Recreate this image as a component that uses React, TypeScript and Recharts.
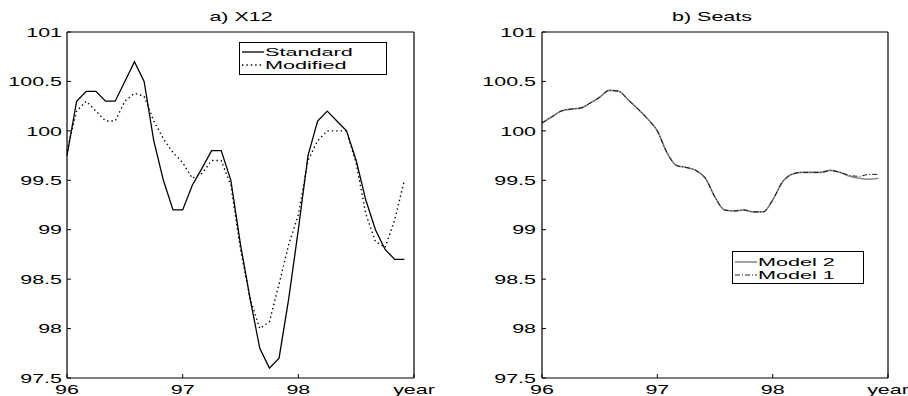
import { LineChart, Line, XAxis, YAxis, Legend } from 'recharts';

const FONT = '"Liberation Sans", Arial, Helvetica, sans-serif';
const STRETCH = 1.65;

// months from Jan 96 to Dec 98
const startYear = 96;
const monthCount = 36;
const months = Array.from({ length: monthCount }, (_, i) => startYear + i / 12);

const standard = [
  99.75, 100.3, 100.4, 100.4, 100.3, 100.3, 100.5, 100.7, 100.5, 99.9, 99.5, 99.2,
  99.2, 99.45, 99.62, 99.8, 99.8, 99.5, 98.85, 98.3, 97.8, 97.6, 97.7, 98.3,
  99.0, 99.75, 100.1, 100.2, 100.1, 100.0, 99.7, 99.3, 99.0, 98.8, 98.7, 98.7,
];
const modified = [
  99.8, 100.2, 100.3, 100.2, 100.1, 100.1, 100.3, 100.38, 100.35, 100.1, 99.92, 99.78,
  99.68, 99.52, 99.57, 99.7, 99.7, 99.45, 98.8, 98.3, 98.0, 98.07, 98.45, 98.85,
  99.15, 99.7, 99.9, 100.0, 100.0, 100.0, 99.67, 99.16, 98.88, 98.82, 99.1, 99.5,
];
const model2 = [
  100.08, 100.14, 100.2, 100.22, 100.23, 100.28, 100.34, 100.41, 100.4, 100.31, 100.22, 100.12,
  100.0, 99.78, 99.65, 99.63, 99.6, 99.52, 99.33, 99.2, 99.19, 99.2, 99.18, 99.18,
  99.3, 99.48, 99.56, 99.58, 99.58, 99.58, 99.6, 99.58, 99.54, 99.52, 99.51, 99.52,
];
const model1 = [
  100.08, 100.14, 100.2, 100.22, 100.23, 100.28, 100.34, 100.41, 100.4, 100.31, 100.22, 100.12,
  100.0, 99.78, 99.65, 99.63, 99.6, 99.52, 99.33, 99.2, 99.19, 99.2, 99.18, 99.18,
  99.3, 99.48, 99.56, 99.58, 99.58, 99.58, 99.6, 99.58, 99.55, 99.54, 99.56, 99.56,
];

const xTicks = [96, 97, 98, 99];
const yTicks = [97.5, 98, 98.5, 99, 99.5, 100, 100.5, 101];
const x12Order = ['Standard', 'Modified'];
const seatsOrder = ['Model 2', 'Model 1'];

const x12Data = months.map((t, i) => ({ t, standard: standard[i], modified: modified[i] }));
const seatsData = months.map((t, i) => ({ t, model2: model2[i], model1: model1[i] }));

const xLabel = (v: number) => (v === 99 ? 'year' : String(v));

const StretchTick = (props: any) => {
  const { x, y, payload, textAnchor, fmt } = props;
  return (
    <text
      transform={`translate(${x},${y}) scale(${STRETCH},1)`}
      textAnchor={textAnchor}
      dy="0.36em"
      fontSize={13}
      fontFamily={FONT}
      fill="#000"
    >
      {fmt ? fmt(payload.value) : payload.value}
    </text>
  );
};

const BoxLegend = (props: any) => {
  const { payload = [], padTop = 4, rowH = 12, order = [] } = props;
  const items = [...payload].sort((a: any, b: any) => order.indexOf(a.value) - order.indexOf(b.value));
  return (
    <div
      style={{
        boxSizing: 'border-box',
        width: '100%',
        height: '100%',
        border: '1px solid #000',
        background: '#fff',
        paddingTop: padTop - 1,
        paddingLeft: 2,
        fontFamily: FONT,
      }}
    >
      {items.map((p: any) => (
        <div key={p.value} style={{ display: 'flex', alignItems: 'center', height: rowH }}>
          <svg width={22} height={4} style={{ display: 'block', flex: 'none' }}>
            <line
              x1={0}
              y1={2}
              x2={22}
              y2={2}
              stroke={p.color}
              strokeWidth={p.payload?.strokeWidth ?? 1}
              strokeDasharray={p.payload?.strokeDasharray}
            />
          </svg>
          <span
            style={{
              fontSize: 10.8,
              lineHeight: '10px',
              color: '#000',
              whiteSpace: 'nowrap',
              marginLeft: 1,
              display: 'inline-block',
              transform: `scaleX(2)`,
              transformOrigin: 'left center',
            }}
          >
            {p.value}
          </span>
        </div>
      ))}
    </div>
  );
};

const Title = ({ text, cx }: { text: string; cx: number }) => (
  <div
    style={{
      position: 'absolute',
      left: cx - 100,
      top: 10,
      width: 200,
      textAlign: 'center',
      fontFamily: FONT,
      fontSize: 13,
      lineHeight: '14px',
      color: '#000',
      transform: `scaleX(${STRETCH})`,
      whiteSpace: 'nowrap',
      zIndex: 2,
    }}
  >
    {text}
  </div>
);

function Panel({ data, title, titleX, yWidth, yMargin, rightMargin, legendBox, legendPad, order, children }: any) {
  return (
    <div style={{ position: 'relative', width: 454, height: 396 }}>
      <LineChart width={454} height={396} data={data} margin={{ top: 30, right: rightMargin, bottom: 0, left: 0 }}>
        <XAxis
          dataKey="t"
          type="number"
          domain={[96, 99]}
          ticks={xTicks}
          height={18}
          tickSize={-4}
          tickMargin={15}
          axisLine={{ stroke: '#000', strokeWidth: 1.2 }}
          tickLine={{ stroke: '#000' }}
          tick={(p: any) => <StretchTick {...p} fmt={xLabel} />}
          interval={0}
        />
        <XAxis
          xAxisId="top"
          dataKey="t"
          type="number"
          orientation="top"
          domain={[96, 99]}
          ticks={xTicks}
          height={2}
          tickSize={-4}
          axisLine={{ stroke: '#000', strokeWidth: 1.2 }}
          tickLine={{ stroke: '#000' }}
          tick={false}
        />
        <YAxis
          type="number"
          domain={[97.5, 101]}
          ticks={yTicks}
          width={yWidth}
          tickSize={-4}
          tickMargin={yMargin}
          axisLine={{ stroke: '#000', strokeWidth: 1.2 }}
          tickLine={{ stroke: '#000' }}
          tick={(p: any) => <StretchTick {...p} />}
          interval={0}
        />
        <YAxis
          yAxisId="right"
          orientation="right"
          type="number"
          domain={[97.5, 101]}
          ticks={yTicks}
          width={2}
          tickSize={-4}
          axisLine={{ stroke: '#000', strokeWidth: 1.2 }}
          tickLine={{ stroke: '#000' }}
          tick={false}
        />
        {children}
        <Legend
          layout="vertical"
          align="center"
          verticalAlign="middle"
          wrapperStyle={{ ...legendBox, margin: 0, padding: 0 }}
          content={(p: any) => <BoxLegend {...p} padTop={legendPad[0]} rowH={legendPad[1]} order={order} />}
        />
      </LineChart>
      <Title text={title} cx={titleX} />
    </div>
  );
}

export default function App() {
  return (
    <div
      style={{
        position: 'absolute',
        left: 0,
        top: 0,
        width: 908,
        height: 396,
        background: '#fff',
        display: 'flex',
        overflow: 'hidden',
      }}
    >
      <Panel
        data={x12Data}
        title="a) X12"
        titleX={241}
        yWidth={67}
        yMargin={9}
        rightMargin={38}
        legendBox={{ left: 239, top: 42, width: 148, height: 33 }}
        legendPad={[4, 12.6]}
        order={x12Order}
      >
        <Line
          type="linear"
          dataKey="standard"
          name="Standard"
          stroke="#000"
          strokeWidth={1.3}
          dot={false}
          isAnimationActive={false}
        />
        <Line
          type="linear"
          dataKey="modified"
          name="Modified"
          stroke="#000"
          strokeWidth={1.4}
          strokeDasharray="1.4 3"
          dot={false}
          isAnimationActive={false}
        />
      </Panel>
      <Panel
        data={seatsData}
        title="b) Seats"
        titleX={258}
        yWidth={88}
        yMargin={10}
        rightMargin={18}
        legendBox={{ left: 278, top: 251, width: 132, height: 33 }}
        legendPad={[5, 12.6]}
        order={seatsOrder}
      >
        <Line
          type="monotone"
          dataKey="model2"
          name="Model 2"
          stroke="#8a8a8a"
          strokeWidth={1.6}
          dot={false}
          isAnimationActive={false}
        />
        <Line
          type="monotone"
          dataKey="model1"
          name="Model 1"
          stroke="#000"
          strokeWidth={0.9}
          strokeDasharray="5 2 1 2"
          dot={false}
          isAnimationActive={false}
        />
      </Panel>
    </div>
  );
}
